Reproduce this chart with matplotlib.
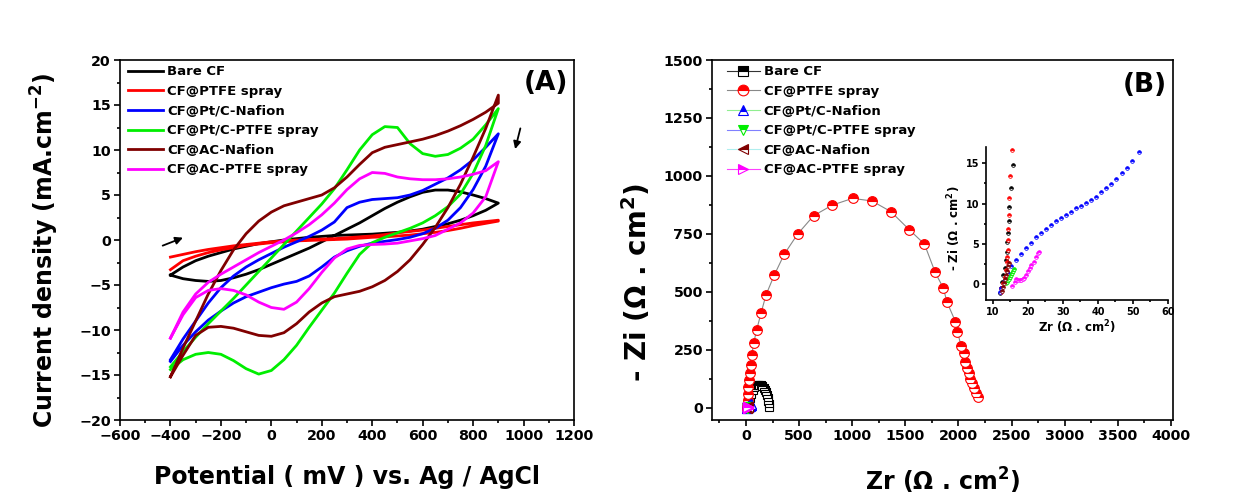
import numpy as np
import matplotlib
matplotlib.use('Agg')
import matplotlib.pyplot as plt
from matplotlib.ticker import MultipleLocator

plt.rcParams['font.family'] = ['DejaVu Sans']
plt.rcParams['font.weight'] = 'bold'
plt.rcParams['axes.labelweight'] = 'bold'
plt.rcParams['mathtext.default'] = 'bf'

# ---------------- Panel A : cyclic voltammetry ----------------
E_mV = [-400, -350, -300, -250, -200, -150, -100, -50, 0, 50, 100, 150, 200, 250,
        300, 350, 400, 450, 500, 550, 600, 650, 700, 750, 800, 850, 900]

cv_labels = ['Bare CF', 'CF@PTFE spray', 'CF@Pt/C-Nafion', 'CF@Pt/C-PTFE spray',
             'CF@AC-Nafion', 'CF@AC-PTFE spray']
cv_colors = ['#000000', '#ff0000', '#0000ff', '#00ee00', '#800000', '#ff00ff']

bare_a = [-3.9, -4.3, -4.5, -4.6, -4.5, -4.2, -3.8, -3.3, -2.7, -2.1, -1.5, -0.9, -0.2, 0.5,
          1.2, 1.9, 2.7, 3.5, 4.2, 4.8, 5.3, 5.55, 5.55, 5.35, 5.0, 4.6, 4.1]
bare_b = [-3.9, -3.0, -2.3, -1.8, -1.4, -1.0, -0.7, -0.4, -0.2, 0.0, 0.15, 0.3, 0.4, 0.5,
          0.55, 0.6, 0.65, 0.75, 0.85, 1.0, 1.2, 1.5, 1.8, 2.2, 2.7, 3.3, 4.1]
ptfe_a = [-1.9, -1.6, -1.3, -1.05, -0.85, -0.65, -0.5, -0.35, -0.2, -0.1, 0.0, 0.05, 0.1, 0.15,
          0.25, 0.35, 0.45, 0.6, 0.8, 0.95, 1.1, 1.3, 1.5, 1.7, 1.9, 2.05, 2.2]
ptfe_b = [-3.3, -2.3, -1.8, -1.4, -1.1, -0.85, -0.6, -0.45, -0.3, -0.2, -0.1, -0.05, 0.0, 0.05,
          0.1, 0.2, 0.3, 0.35, 0.45, 0.55, 0.7, 0.85, 1.05, 1.3, 1.6, 1.85, 2.1]
ptcn_a = [-13.5, -11.7, -10.2, -8.9, -7.9, -7.0, -6.3, -5.8, -5.3, -4.9, -4.6, -4.0, -3.0, -1.9,
          -1.2, -0.7, -0.35, -0.15, 0.05, 0.3, 0.7, 1.3, 2.2, 3.6, 5.6, 8.2, 11.8]
ptcn_b = [-13.3, -11.0, -9.0, -7.0, -5.3, -4.0, -3.0, -2.2, -1.5, -0.8, -0.2, 0.4, 1.1, 2.0,
          3.6, 4.2, 4.5, 4.6, 4.7, 5.0, 5.5, 6.2, 6.9, 7.8, 8.9, 10.3, 11.8]
ptcp_a = [-14.4, -13.3, -12.7, -12.5, -12.7, -13.4, -14.3, -14.9, -14.5, -13.3, -11.7, -9.7, -7.8, -5.9,
          -3.7, -1.6, -0.3, 0.3, 0.8, 1.3, 1.9, 2.7, 3.7, 5.1, 7.4, 10.5, 14.6]
ptcp_b = [-14.1, -12.4, -10.8, -9.3, -7.9, -6.5, -5.0, -3.5, -2.0, -0.5, 1.0, 2.5, 4.0, 5.7,
          7.8, 10.0, 11.7, 12.6, 12.5, 10.7, 9.6, 9.3, 9.5, 10.2, 11.2, 12.8, 14.6]
acn_a = [-15.2, -12.8, -10.6, -9.7, -9.6, -9.8, -10.2, -10.6, -10.7, -10.3, -9.3, -8.0, -7.0, -6.3,
         -6.0, -5.7, -5.2, -4.5, -3.5, -2.2, -0.5, 1.4, 3.6, 6.2, 9.2, 12.4, 16.1]
acn_b = [-15.2, -12.0, -9.0, -6.0, -3.4, -1.1, 0.7, 2.1, 3.1, 3.8, 4.2, 4.6, 5.0, 5.8,
         7.0, 8.4, 9.7, 10.3, 10.6, 10.9, 11.2, 11.6, 12.1, 12.7, 13.4, 14.2, 15.2]
acp_a = [-10.9, -8.3, -6.4, -5.6, -5.4, -5.6, -6.1, -6.9, -7.5, -7.7, -6.9, -5.4, -3.6, -2.0,
         -1.0, -0.6, -0.5, -0.45, -0.35, -0.1, 0.15, 0.5, 1.2, 1.9, 3.0, 4.8, 8.7]
acp_b = [-10.9, -8.0, -6.0, -4.7, -3.8, -3.0, -2.2, -1.4, -0.7, 0.0, 0.8, 1.7, 2.8, 4.1,
         5.6, 6.8, 7.5, 7.4, 7.0, 6.8, 6.7, 6.7, 6.8, 7.0, 7.3, 7.7, 8.7]

cv_a = [bare_a, ptfe_a, ptcn_a, ptcp_a, acn_a, acp_a]
cv_b = [bare_b, ptfe_b, ptcn_b, ptcp_b, acn_b, acp_b]

# ---------------- Panel B : Nyquist ----------------
eis_labels = cv_labels
bare_zr = [12.1, 12.4, 12.7, 13.0, 13.3, 13.6, 13.9, 14.1, 14.3, 14.5, 14.7, 15.2, 15.7,
           22, 35, 50, 65, 80, 95, 110, 125, 140, 155, 168, 180, 190, 198, 205, 211, 216, 221]
bare_zi = [-1.1, -0.5, 0.3, 1.15, 2.0, 3.0, 4.0, 5.2, 6.3, 7.8, 9.6, 11.9, 14.8,
           25, 42, 60, 76, 88, 96, 99, 99, 97, 93, 87, 78, 68, 56, 44, 31, 18, 5]
ptfe_zr = [12.2, 12.4, 12.8, 13.3, 13.8, 14.0, 14.1, 14.2, 14.3, 14.4, 14.5, 14.7, 14.9, 15.5,
           18, 20, 22, 27, 35, 45, 55, 72, 100, 141, 188, 266, 360, 486, 636, 812, 1003, 1185,
           1364, 1539, 1680, 1781, 1859, 1891, 1972, 1991, 2025, 2053, 2065, 2078, 2097, 2109,
           2128, 2147, 2165, 2187]
ptfe_zi = [-0.9, -0.5, 0.1, 0.95, 1.8, 2.7, 3.4, 4.3, 5.5, 6.9, 8.6, 10.7, 13.4, 16.6,
           32, 61, 90, 119, 148, 184, 227, 278, 335, 407, 486, 572, 662, 749, 828, 874, 903, 892,
           846, 767, 706, 584, 515, 457, 371, 328, 266, 235, 196, 170, 148, 126,
           105, 83, 64, 47]
ptcn_zr = [12.1, 12.4, 13.3, 14.3, 15.2, 16.6, 18.1, 19.5, 20.9, 22.3, 23.7, 25.2, 26.6, 28.0, 29.4,
           30.9, 32.3, 33.7, 35.1, 36.5, 37.9, 39.4, 40.8, 42.2, 43.6, 45.1, 46.8, 48.2, 49.8, 51.6]
ptcn_zi = [-1.0, -0.5, 0.5, 1.4, 2.2, 3.0, 3.8, 4.5, 5.1, 5.8, 6.3, 6.9, 7.4, 7.85, 8.2,
           8.6, 9.0, 9.4, 9.7, 10.1, 10.4, 10.85, 11.4, 11.9, 12.4, 13.05, 13.75, 14.4, 15.3, 16.4]
ptcp_zr = [13.6, 13.9, 14.2, 14.5, 14.8, 15.1, 15.4, 15.7, 16.0]
ptcp_zi = [0.1, 0.3, 0.5, 0.7, 0.9, 1.1, 1.35, 1.6, 1.9]
acn_zr = [12.5, 12.8, 13.1, 13.4, 13.7, 14.0, 14.3, 14.6]
acn_zi = [-0.8, -0.3, 0.2, 0.7, 1.2, 1.7, 2.2, 2.6]
acp_zr = [15.5, 16.2, 16.6, 17.1, 17.6, 18.1, 18.5, 19.0, 19.5, 20.0, 20.5, 21.0, 21.6, 22.2, 22.8, 23.2]
acp_zi = [-0.2, 0.3, 0.6, 0.5, 0.5, 0.55, 0.6, 0.8, 1.2, 1.6, 2.0, 2.4, 2.8, 3.4, 3.9, 4.0]

eis_zr = [bare_zr, ptfe_zr, ptcn_zr, ptcp_zr, acn_zr, acp_zr]
eis_zi = [bare_zi, ptfe_zi, ptcn_zi, ptcp_zi, acn_zi, acp_zi]
eis_markers = ['s', 'o', '^', 'v', '<', '>']
eis_mcolors = ['#000000', '#ff0000', '#0000ff', '#00ee00', '#800000', '#ff00ff']
eis_lcolors = ['#333333', '#888888', '#90ee90', '#8080ff', '#b0eeee', '#ff40ff']
eis_msizes = [6, 7, 7, 7, 7, 7]

# ---------------- figure ----------------
fig = plt.figure(figsize=(12.5, 4.96), dpi=100)
axA = fig.add_axes([120 / 1250, 76 / 496, 454 / 1250, 360 / 496])
axB = fig.add_axes([712 / 1250, 76 / 496, 461 / 1250, 360 / 496])
axI = fig.add_axes([986 / 1250, 196 / 496, 182 / 1250, 153 / 496])


def style(ax, fs=10.3, maj=4.5, mnr=2.5):
    for s in ax.spines.values():
        s.set_linewidth(1.2)
    ax.tick_params(which='both', direction='out', top=False, right=False,
                   width=1.2, labelsize=fs, pad=2)
    ax.tick_params(which='major', length=maj)
    ax.tick_params(which='minor', length=mnr)


# Panel A
E = np.array(E_mV)
for a, b, c, lab in zip(cv_a, cv_b, cv_colors, cv_labels):
    x = np.concatenate([E, E[::-1]])
    y = np.concatenate([np.array(a), np.array(b)[::-1]])
    axA.plot(x, y, color=c, lw=2.0, label=lab, solid_joinstyle='round')

axA.set_xlim(-600, 1200)
axA.set_ylim(-20, 20)
axA.xaxis.set_major_locator(MultipleLocator(200))
axA.xaxis.set_minor_locator(MultipleLocator(100))
axA.yaxis.set_major_locator(MultipleLocator(5))
axA.yaxis.set_minor_locator(MultipleLocator(2.5))
style(axA)
axA.set_xlabel('Potential ( mV ) vs. Ag / AgCl', fontsize=17)
axA.xaxis.set_label_coords(0.5, -0.125)
axA.set_ylabel('Current density (mA.cm$^{-2}$)', fontsize=17)
axA.yaxis.set_label_coords(-0.13, 0.472)
axA.legend(loc='upper left', bbox_to_anchor=(0.018, 0.985), frameon=False, fontsize=9.5,
           borderaxespad=0, borderpad=0, handlelength=2.65, handletextpad=0.3,
           labelspacing=0.5)
axA.text(1089, 17.4, '(A)', fontsize=19, ha='center', va='center')
arrow_kw = dict(arrowstyle='-|>', lw=1.3, color='black', mutation_scale=11)
axA.annotate('', xy=(-340, 0.37), xytext=(-441, -0.74), arrowprops=arrow_kw)
axA.annotate('', xy=(964, 9.8), xytext=(990, 12.7), arrowprops=arrow_kw)

# Panel B
handles = []
for zr, zi, m, mc, lc, ms, lab in zip(eis_zr, eis_zi, eis_markers, eis_mcolors,
                                      eis_lcolors, eis_msizes, eis_labels):
    h, = axB.plot(zr, zi, color=lc, lw=0.8, marker=m, markersize=ms,
                  markerfacecolor=mc, markeredgecolor=mc, markerfacecoloralt='white',
                  fillstyle='top', markeredgewidth=0.8, label=lab)
    handles.append(h)
    axI.plot(zr, zi, linestyle='none', marker='o', markersize=2.6,
             markerfacecolor=mc, markeredgecolor=mc, markerfacecoloralt='white',
             fillstyle='top', markeredgewidth=0.6)

axB.set_xlim(-320, 4020)
axB.set_ylim(-53, 1500)
axB.xaxis.set_major_locator(MultipleLocator(500))
axB.xaxis.set_minor_locator(MultipleLocator(250))
axB.yaxis.set_major_locator(MultipleLocator(250))
axB.yaxis.set_minor_locator(MultipleLocator(125))
style(axB)
axB.set_xlabel('Zr (Ω . cm$^2$)', fontsize=17)
axB.xaxis.set_label_coords(0.5, -0.128)
axB.set_ylabel('- Zi (Ω . cm$^2$)', fontsize=20)
axB.yaxis.set_label_coords(-0.128, 0.381)
axB.legend(handles=handles, loc='upper left', bbox_to_anchor=(0.032, 0.985), frameon=False,
           fontsize=9.5, borderaxespad=0, borderpad=0, handlelength=2.5, handletextpad=0.3,
           labelspacing=0.5, markerscale=1.1)
axB.text(3756, 1392, '(B)', fontsize=19, ha='center', va='center')

# Inset
axI.set_xlim(8, 60)
axI.set_ylim(-1.95, 17)
axI.xaxis.set_major_locator(MultipleLocator(10))
axI.xaxis.set_minor_locator(MultipleLocator(5))
axI.yaxis.set_major_locator(MultipleLocator(5))
axI.yaxis.set_minor_locator(MultipleLocator(2.5))
axI.spines['top'].set_visible(False)
axI.spines['right'].set_visible(False)
style(axI, fs=7, maj=3, mnr=1.5)
axI.patch.set_alpha(0)
axI.set_xlabel('Zr (Ω . cm$^2$)', fontsize=8.5)
axI.xaxis.set_label_coords(0.5, -0.118)
axI.set_ylabel('- Zi (Ω . cm$^2$)', fontsize=8.5)
axI.yaxis.set_label_coords(-0.125, 0.47)

fig.savefig('out.png', dpi=100)
